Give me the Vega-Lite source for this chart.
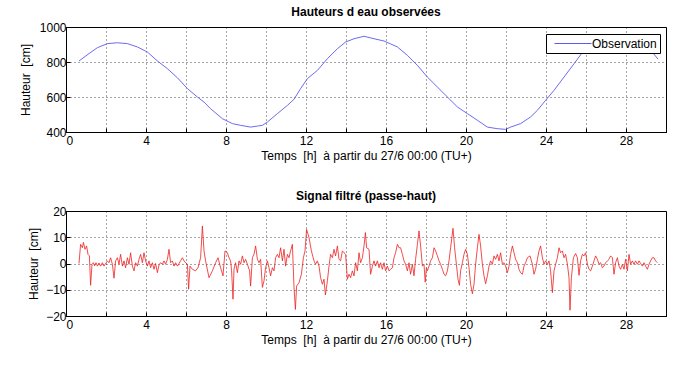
{
  "$schema": "https://vega.github.io/schema/vega-lite/v6.json",
  "background": "white",
  "padding": {"left": 18, "top": 5, "right": 5, "bottom": 5},
  "spacing": 27,
  "datasets": {
    "tide": [
      {"t": 0.65, "h": 806}, {"t": 1.15, "h": 848}, {"t": 1.57, "h": 882}, {"t": 2.07, "h": 905},
      {"t": 2.57, "h": 910}, {"t": 3.07, "h": 905}, {"t": 3.57, "h": 886}, {"t": 4.07, "h": 857},
      {"t": 4.57, "h": 806}, {"t": 5.07, "h": 762}, {"t": 5.57, "h": 710}, {"t": 6.07, "h": 648},
      {"t": 6.57, "h": 600}, {"t": 6.9, "h": 571}, {"t": 7.23, "h": 533}, {"t": 7.82, "h": 476},
      {"t": 8.32, "h": 448}, {"t": 8.73, "h": 438}, {"t": 9.23, "h": 428}, {"t": 9.57, "h": 434},
      {"t": 9.82, "h": 438}, {"t": 10.07, "h": 457}, {"t": 10.57, "h": 505}, {"t": 11.07, "h": 552},
      {"t": 11.4, "h": 587}, {"t": 11.73, "h": 648}, {"t": 12.07, "h": 705}, {"t": 12.57, "h": 752},
      {"t": 13.07, "h": 819}, {"t": 13.57, "h": 876}, {"t": 13.98, "h": 914}, {"t": 14.4, "h": 933},
      {"t": 14.9, "h": 947}, {"t": 15.4, "h": 933}, {"t": 15.9, "h": 920}, {"t": 16.57, "h": 886},
      {"t": 17.07, "h": 838}, {"t": 17.57, "h": 781}, {"t": 18.07, "h": 714}, {"t": 18.57, "h": 657},
      {"t": 19.07, "h": 600}, {"t": 19.57, "h": 543}, {"t": 20.07, "h": 505}, {"t": 20.57, "h": 467},
      {"t": 21.07, "h": 428}, {"t": 21.57, "h": 419}, {"t": 21.98, "h": 415}, {"t": 22.23, "h": 428},
      {"t": 22.73, "h": 448}, {"t": 23.23, "h": 486}, {"t": 23.57, "h": 524}, {"t": 23.98, "h": 581},
      {"t": 24.4, "h": 638}, {"t": 24.9, "h": 714}, {"t": 25.4, "h": 790}, {"t": 25.9, "h": 867},
      {"t": 26.3, "h": 890}, {"t": 26.7, "h": 908}, {"t": 27.1, "h": 918}, {"t": 27.5, "h": 920},
      {"t": 27.9, "h": 912}, {"t": 28.3, "h": 900}, {"t": 28.7, "h": 886}, {"t": 29.0, "h": 875},
      {"t": 29.23, "h": 865}, {"t": 29.4, "h": 845}, {"t": 29.6, "h": 816}
    ],
    "filt": [
      {"t": 0.65, "v": 0}, {"t": 0.73, "v": 7.3}, {"t": 0.82, "v": 6}, {"t": 0.87, "v": 8},
      {"t": 0.95, "v": 5.4}, {"t": 1.03, "v": 6.7}, {"t": 1.1, "v": 3.5}, {"t": 1.17, "v": 2.9},
      {"t": 1.23, "v": -8.3}, {"t": 1.3, "v": -0.3}, {"t": 1.37, "v": 0.3}, {"t": 1.43, "v": -0.9},
      {"t": 1.5, "v": 0.3}, {"t": 1.57, "v": -1}, {"t": 1.65, "v": 0.2}, {"t": 1.73, "v": -1},
      {"t": 1.82, "v": 0.3}, {"t": 1.9, "v": -1}, {"t": 1.98, "v": 0}, {"t": 2.07, "v": 1},
      {"t": 2.15, "v": 0.3}, {"t": 2.23, "v": 2.2}, {"t": 2.32, "v": -0.3}, {"t": 2.4, "v": -5.6},
      {"t": 2.48, "v": 1}, {"t": 2.57, "v": 2.2}, {"t": 2.65, "v": -0.3}, {"t": 2.73, "v": 3.5},
      {"t": 2.82, "v": -1}, {"t": 2.9, "v": 1}, {"t": 2.98, "v": -1.6}, {"t": 3.07, "v": 2.2},
      {"t": 3.15, "v": -0.3}, {"t": 3.23, "v": 4.1}, {"t": 3.32, "v": -1}, {"t": 3.4, "v": -2.8},
      {"t": 3.48, "v": 0.3}, {"t": 3.57, "v": -1}, {"t": 3.65, "v": 1.6}, {"t": 3.73, "v": 3.5},
      {"t": 3.82, "v": 0.3}, {"t": 3.9, "v": 4.1}, {"t": 3.98, "v": 1}, {"t": 4.07, "v": -1},
      {"t": 4.15, "v": 1}, {"t": 4.23, "v": -1.6}, {"t": 4.32, "v": 0.3}, {"t": 4.4, "v": -2.2},
      {"t": 4.48, "v": 0}, {"t": 4.57, "v": -3.5}, {"t": 4.65, "v": -0.5}, {"t": 4.73, "v": 0.3},
      {"t": 4.82, "v": -0.3}, {"t": 4.9, "v": 1}, {"t": 4.98, "v": -0.3}, {"t": 5.07, "v": 1.6},
      {"t": 5.15, "v": 5.4}, {"t": 5.23, "v": 0.3}, {"t": 5.32, "v": 1}, {"t": 5.4, "v": -1},
      {"t": 5.48, "v": 0.3}, {"t": 5.57, "v": -1}, {"t": 5.65, "v": 0}, {"t": 5.73, "v": 1},
      {"t": 5.82, "v": 2.2}, {"t": 5.9, "v": 1}, {"t": 5.98, "v": 0.3}, {"t": 6.07, "v": -0.3},
      {"t": 6.13, "v": -9.8}, {"t": 6.2, "v": -1}, {"t": 6.32, "v": -2.2}, {"t": 6.48, "v": -2.8},
      {"t": 6.6, "v": -1.6}, {"t": 6.73, "v": 2.2}, {"t": 6.82, "v": 14.3}, {"t": 6.9, "v": 4.8},
      {"t": 6.98, "v": 1}, {"t": 7.15, "v": -5.4}, {"t": 7.32, "v": -2.8}, {"t": 7.48, "v": 0.3},
      {"t": 7.6, "v": 2.2}, {"t": 7.73, "v": -1.6}, {"t": 7.85, "v": -4.7}, {"t": 7.95, "v": 4.8},
      {"t": 8.07, "v": 4.1}, {"t": 8.15, "v": 2.2}, {"t": 8.23, "v": 1}, {"t": 8.28, "v": -2.8},
      {"t": 8.35, "v": -13.6}, {"t": 8.4, "v": -2.2}, {"t": 8.48, "v": 0.3}, {"t": 8.57, "v": -3.5},
      {"t": 8.65, "v": 1}, {"t": 8.73, "v": -0.3}, {"t": 8.82, "v": 2.9}, {"t": 8.9, "v": 0.3},
      {"t": 8.98, "v": 1.6}, {"t": 9.07, "v": -0.3}, {"t": 9.18, "v": -2.8}, {"t": 9.23, "v": -8.6},
      {"t": 9.32, "v": 2.2}, {"t": 9.4, "v": 3.5}, {"t": 9.48, "v": 6.7}, {"t": 9.57, "v": 1.6},
      {"t": 9.65, "v": 0.3}, {"t": 9.73, "v": 1.6}, {"t": 9.82, "v": -9.1}, {"t": 9.9, "v": -6.6},
      {"t": 9.98, "v": -1.6}, {"t": 10.07, "v": 1}, {"t": 10.15, "v": -1.6}, {"t": 10.23, "v": -4.7},
      {"t": 10.32, "v": -1.6}, {"t": 10.4, "v": -2.8}, {"t": 10.48, "v": 2.2}, {"t": 10.57, "v": 3.5},
      {"t": 10.65, "v": 2.2}, {"t": 10.73, "v": 6}, {"t": 10.82, "v": 1}, {"t": 10.9, "v": 5.4},
      {"t": 10.98, "v": -1}, {"t": 11.07, "v": 3.5}, {"t": 11.15, "v": 2.2}, {"t": 11.23, "v": 4.8},
      {"t": 11.32, "v": 7.3}, {"t": 11.4, "v": -9.1}, {"t": 11.47, "v": -17.5}, {"t": 11.53, "v": -8.6},
      {"t": 11.65, "v": -7.3}, {"t": 11.77, "v": -4.1}, {"t": 11.87, "v": 2.2}, {"t": 11.95, "v": 4.8},
      {"t": 12.03, "v": 13}, {"t": 12.15, "v": 9.9}, {"t": 12.27, "v": 4.8}, {"t": 12.4, "v": 1},
      {"t": 12.48, "v": -0.3}, {"t": 12.57, "v": 1}, {"t": 12.65, "v": -1}, {"t": 12.73, "v": -5.4},
      {"t": 12.82, "v": -7.9}, {"t": 12.9, "v": -6}, {"t": 12.97, "v": -12}, {"t": 13.07, "v": -6.6},
      {"t": 13.15, "v": -1}, {"t": 13.23, "v": 3.5}, {"t": 13.32, "v": 2.2}, {"t": 13.4, "v": 5.4},
      {"t": 13.48, "v": 2.9}, {"t": 13.57, "v": 6.7}, {"t": 13.65, "v": 1.6}, {"t": 13.73, "v": 1},
      {"t": 13.82, "v": 4.8}, {"t": 13.9, "v": 4.1}, {"t": 13.98, "v": 3.5}, {"t": 14.07, "v": -6},
      {"t": 14.15, "v": -4.1}, {"t": 14.23, "v": -5.4}, {"t": 14.32, "v": -2.8}, {"t": 14.4, "v": -4.7},
      {"t": 14.48, "v": 0.3}, {"t": 14.57, "v": -2.8}, {"t": 14.65, "v": 4.1}, {"t": 14.73, "v": 0.3},
      {"t": 14.82, "v": 2.2}, {"t": 14.9, "v": 6.7}, {"t": 14.97, "v": 11.8}, {"t": 15.03, "v": 6},
      {"t": 15.15, "v": 5.4}, {"t": 15.23, "v": -4.1}, {"t": 15.32, "v": -1}, {"t": 15.4, "v": 1},
      {"t": 15.48, "v": -1}, {"t": 15.57, "v": 1}, {"t": 15.65, "v": -1.6}, {"t": 15.73, "v": 0.3},
      {"t": 15.82, "v": -2.2}, {"t": 15.9, "v": 0.3}, {"t": 15.98, "v": -2.8}, {"t": 16.07, "v": -1},
      {"t": 16.15, "v": -2.8}, {"t": 16.23, "v": -2.2}, {"t": 16.32, "v": -1.6}, {"t": 16.4, "v": 2.2},
      {"t": 16.48, "v": 4.1}, {"t": 16.57, "v": 7.3}, {"t": 16.65, "v": 6}, {"t": 16.73, "v": 6},
      {"t": 16.82, "v": 3.5}, {"t": 16.9, "v": 1}, {"t": 16.98, "v": -0.3}, {"t": 17.07, "v": -2.8},
      {"t": 17.15, "v": 0.3}, {"t": 17.23, "v": -4.1}, {"t": 17.32, "v": -0.3}, {"t": 17.4, "v": -4.7},
      {"t": 17.48, "v": 1.6}, {"t": 17.57, "v": 7.3}, {"t": 17.65, "v": 12.4}, {"t": 17.73, "v": 6.7},
      {"t": 17.82, "v": -1}, {"t": 17.9, "v": -0.3}, {"t": 17.96, "v": -7.1}, {"t": 18.02, "v": -1.6},
      {"t": 18.07, "v": -2.8}, {"t": 18.15, "v": -1}, {"t": 18.23, "v": 1}, {"t": 18.32, "v": 2.2},
      {"t": 18.4, "v": 6}, {"t": 18.48, "v": 4.8}, {"t": 18.57, "v": 2.9}, {"t": 18.65, "v": 1},
      {"t": 18.73, "v": -0.3}, {"t": 18.82, "v": -2.2}, {"t": 18.9, "v": -4.1}, {"t": 18.98, "v": -4.7},
      {"t": 19.07, "v": -2.8}, {"t": 19.15, "v": 1}, {"t": 19.23, "v": 6}, {"t": 19.35, "v": 13.4},
      {"t": 19.43, "v": 6}, {"t": 19.52, "v": -0.3}, {"t": 19.6, "v": -6}, {"t": 19.67, "v": -8.3},
      {"t": 19.73, "v": -2.8}, {"t": 19.82, "v": 0.3}, {"t": 19.9, "v": 3.5}, {"t": 19.98, "v": 5.4},
      {"t": 20.07, "v": 3.5}, {"t": 20.15, "v": -1.6}, {"t": 20.23, "v": -7.9}, {"t": 20.32, "v": -11.5},
      {"t": 20.4, "v": -7.9}, {"t": 20.48, "v": -0.3}, {"t": 20.57, "v": 6}, {"t": 20.65, "v": 11.1},
      {"t": 20.73, "v": 6.7}, {"t": 20.82, "v": -0.3}, {"t": 20.9, "v": -4.7}, {"t": 20.98, "v": -7.7},
      {"t": 21.07, "v": -4.7}, {"t": 21.15, "v": -1}, {"t": 21.23, "v": 1}, {"t": 21.32, "v": -0.3},
      {"t": 21.4, "v": 2.9}, {"t": 21.48, "v": 1.6}, {"t": 21.57, "v": 3.5}, {"t": 21.65, "v": 1},
      {"t": 21.73, "v": 4.1}, {"t": 21.82, "v": -0.3}, {"t": 21.9, "v": 0.3}, {"t": 21.98, "v": -1},
      {"t": 22.07, "v": -3.5}, {"t": 22.15, "v": -1}, {"t": 22.23, "v": 3.5}, {"t": 22.32, "v": 6.7},
      {"t": 22.4, "v": 4.1}, {"t": 22.48, "v": 1.6}, {"t": 22.57, "v": 0.3}, {"t": 22.65, "v": -2.2},
      {"t": 22.73, "v": -3.5}, {"t": 22.82, "v": -4.1}, {"t": 22.9, "v": -1}, {"t": 22.98, "v": 0.3},
      {"t": 23.07, "v": 2.2}, {"t": 23.2, "v": 2.9}, {"t": 23.32, "v": -0.3}, {"t": 23.4, "v": -4.1},
      {"t": 23.48, "v": -2.2}, {"t": 23.57, "v": 1.6}, {"t": 23.65, "v": 4.8}, {"t": 23.73, "v": 6.7},
      {"t": 23.82, "v": 2.2}, {"t": 23.9, "v": -0.3}, {"t": 23.98, "v": 1}, {"t": 24.07, "v": -0.3},
      {"t": 24.15, "v": 1}, {"t": 24.23, "v": -2.8}, {"t": 24.32, "v": -11.1}, {"t": 24.4, "v": -2.8},
      {"t": 24.48, "v": -0.3}, {"t": 24.57, "v": 2.2}, {"t": 24.65, "v": 6}, {"t": 24.73, "v": 4.1},
      {"t": 24.82, "v": 4.8}, {"t": 24.9, "v": 2.2}, {"t": 24.98, "v": 3.5}, {"t": 25.07, "v": -0.3},
      {"t": 25.15, "v": -5.4}, {"t": 25.2, "v": -17.8}, {"t": 25.27, "v": -5.4}, {"t": 25.37, "v": 2.2},
      {"t": 25.48, "v": 3.8}, {"t": 25.57, "v": 2.2}, {"t": 25.65, "v": -4.5}, {"t": 25.73, "v": 1},
      {"t": 25.82, "v": 3.5}, {"t": 25.9, "v": 2.9}, {"t": 25.98, "v": 4.1}, {"t": 26.07, "v": -0.3},
      {"t": 26.15, "v": -2.2}, {"t": 26.23, "v": -2.8}, {"t": 26.32, "v": -1}, {"t": 26.4, "v": 1},
      {"t": 26.48, "v": 2.9}, {"t": 26.57, "v": 1.6}, {"t": 26.65, "v": -0.3}, {"t": 26.73, "v": 0.3},
      {"t": 26.82, "v": -1.6}, {"t": 26.9, "v": -1}, {"t": 26.98, "v": 0.3}, {"t": 27.07, "v": 1},
      {"t": 27.15, "v": 1.6}, {"t": 27.23, "v": 2.9}, {"t": 27.32, "v": 2.2}, {"t": 27.4, "v": -4.1},
      {"t": 27.48, "v": 0.3}, {"t": 27.57, "v": 2.2}, {"t": 27.65, "v": -1}, {"t": 27.73, "v": -2.2},
      {"t": 27.82, "v": -0.3}, {"t": 27.9, "v": -2.2}, {"t": 27.98, "v": 1.6}, {"t": 28.07, "v": -2.8},
      {"t": 28.15, "v": 3.5}, {"t": 28.23, "v": -0.3}, {"t": 28.32, "v": 1}, {"t": 28.4, "v": -0.3},
      {"t": 28.48, "v": 1}, {"t": 28.57, "v": -0.3}, {"t": 28.65, "v": 1}, {"t": 28.73, "v": 0},
      {"t": 28.82, "v": -1}, {"t": 28.9, "v": 0.3}, {"t": 28.98, "v": -1}, {"t": 29.07, "v": -2.2},
      {"t": 29.15, "v": -0.3}, {"t": 29.23, "v": 1}, {"t": 29.32, "v": 2.2}, {"t": 29.4, "v": 2.2},
      {"t": 29.48, "v": 1}, {"t": 29.57, "v": 0.3}
    ]
  },
  "config": {
    "font": "Liberation Sans",
    "view": {"stroke": "black", "strokeWidth": 1},
    "title": {"fontSize": 12, "fontWeight": "bold", "color": "black", "offset": 2, "anchor": "middle"},
    "axis": {
      "domainColor": "black", "tickColor": "black", "labelColor": "black", "titleColor": "black",
      "labelFontSize": 12, "titleFontSize": 12, "titleFontWeight": "normal",
      "grid": true, "gridColor": "black", "gridDash": [1, 3], "gridOpacity": 0.7,
      "tickSize": -4, "labelPadding": 4
    },
    "axisX": {"labelPadding": 7}
  },
  "vconcat": [
    {
      "width": 600, "height": 105,
      "title": "Hauteurs d eau observées",
      "data": {"name": "tide"},
      "mark": {"type": "line", "strokeWidth": 0.9, "clip": true},
      "encoding": {
        "x": {"field": "t", "type": "quantitative", "scale": {"domain": [0, 30], "nice": false},
          "axis": {"title": "Temps\u00a0\u00a0[h]\u00a0\u00a0à partir du 27/6 00:00 (TU+)", "values": [0,2,4,6,8,10,12,14,16,18,20,22,24,26,28,30],
            "labelExpr": "datum.value % 4 === 0 ? datum.label : ''", "titlePadding": 4}},
        "y": {"field": "h", "type": "quantitative", "scale": {"domain": [400, 1000], "nice": false},
          "axis": {"title": "Hauteur\u00a0\u00a0[cm]", "values": [400, 600, 800, 1000], "format": "d", "titlePadding": 7}},
        "color": {"datum": "Observation", "type": "nominal",
          "scale": {"range": ["#5a5aee"]},
          "legend": {"title": null, "orient": "none", "legendX": 480, "legendY": 7, "fillColor": "white", "strokeColor": "black",
            "padding": 3, "symbolType": "M-0.17,0H6", "symbolSize": 144, "symbolStrokeWidth": 1, "symbolFillColor": "transparent",
            "symbolStrokeColor": "#5a5aee",
            "labelFontSize": 12, "labelColor": "black", "labelOffset": 30}}
      }
    },
    {
      "width": 600, "height": 105,
      "title": "Signal filtré (passe-haut)",
      "data": {"name": "filt"},
      "mark": {"type": "line", "strokeWidth": 0.8, "color": "#ee2020", "clip": true},
      "encoding": {
        "x": {"field": "t", "type": "quantitative", "scale": {"domain": [0, 30], "nice": false},
          "axis": {"title": "Temps\u00a0\u00a0[h]\u00a0\u00a0à partir du 27/6 00:00 (TU+)", "values": [0,2,4,6,8,10,12,14,16,18,20,22,24,26,28,30],
            "labelExpr": "datum.value % 4 === 0 ? datum.label : ''", "titlePadding": 4}},
        "y": {"field": "v", "type": "quantitative", "scale": {"domain": [-20, 20], "nice": false},
          "axis": {"title": "Hauteur\u00a0\u00a0[cm]", "values": [-20, -10, 0, 10, 20], "titlePadding": 5}}
      }
    }
  ]
}
